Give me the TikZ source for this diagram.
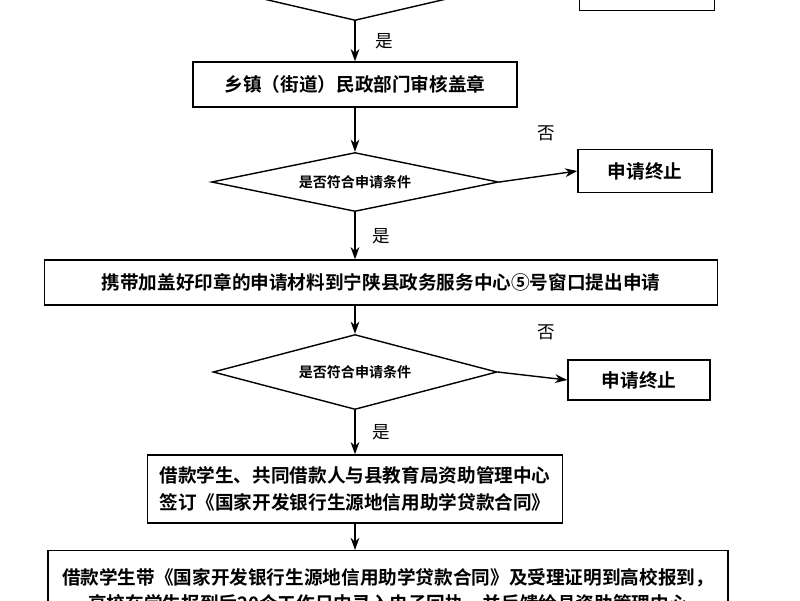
\documentclass[tikz,border=0pt]{standalone}
\usepackage{fontspec}
\setmainfont{Noto Sans CJK SC}[BoldFont={* Bold}]
\usetikzlibrary{shapes.geometric,arrows.meta}
\begin{document}
\begin{tikzpicture}[x=0.02cm,y=-0.02cm,
  box/.style={draw,thick,inner sep=0pt,font=\bfseries\fontsize{10.6pt}{15pt}\selectfont,align=center},
  dia/.style={draw,thick,diamond,aspect=5,inner sep=0pt,font=\bfseries\fontsize{8pt}{10pt}\selectfont},
  lab/.style={font=\fontsize{10pt}{12pt}\selectfont},
  arr/.style={thick,-{Stealth[length=7pt,width=5pt]}}]
\useasboundingbox (0,0) rectangle (800,600);
\fill[white] (0,0) rectangle (800,600);
\node[dia,minimum width=4.7cm,minimum height=1.1cm] (d0) at (355,-7) {是否符合申请条件};
\node[box,minimum width=2.7cm,minimum height=0.9cm] (t0) at (647,-12) {申请终止};
\node[box,minimum width=6.48cm,minimum height=0.9cm] (b1) at (355,84.5) {乡镇（街道）民政部门审核盖章};
\node[dia,minimum width=5.74cm,minimum height=1.18cm] (d1) at (355,182) {是否符合申请条件};
\node[box,minimum width=2.68cm,minimum height=0.86cm] (t1) at (645,171) {申请终止};
\node[box,minimum width=13.46cm,minimum height=0.9cm] (b2) at (381,282.5) {携带加盖好印章的申请材料到宁陕县政务服务中心⑤号窗口提出申请};
\node[dia,minimum width=5.68cm,minimum height=1.5cm] (d2) at (355,372) {是否符合申请条件};
\node[box,minimum width=2.84cm,minimum height=0.8cm] (t2) at (639,380) {申请终止};
\node[box,minimum width=8.3cm,minimum height=1.36cm] (b3) at (355,489) {借款学生、共同借款人与县教育局资助管理中心\\签订《国家开发银行生源地信用助学贷款合同》};
\node[box,minimum width=13.6cm,minimum height=1.6cm,anchor=north] (b4) at (388,550) {借款学生带《国家开发银行生源地信用助学贷款合同》及受理证明到高校报到，\\高校在学生报到后20个工作日内录入电子回执，并反馈给县资助管理中心};
\draw[arr] (d0.south) -- (b1.north) node[lab,midway,right=8pt] {是};
\draw[arr] (b1.south) -- (d1.north);
\draw[arr] (d1.east) -- (t1.west) node[lab,pos=0.6,above=16pt] {否};
\draw[arr] (d1.south) -- (b2.north-|d1.south) node[lab,midway,right=6pt] {是};
\draw[arr] (b2.south-|d2.north) -- (d2.north);
\draw[arr] (d2.east) -- (t2.west) node[lab,pos=0.7,above=18pt] {否};
\draw[arr] (d2.south) -- (b3.north-|d2.south) node[lab,midway,right=6pt] {是};
\draw[arr] (b3.south) -- (b4.north-|b3.south);
\end{tikzpicture}
\end{document}
